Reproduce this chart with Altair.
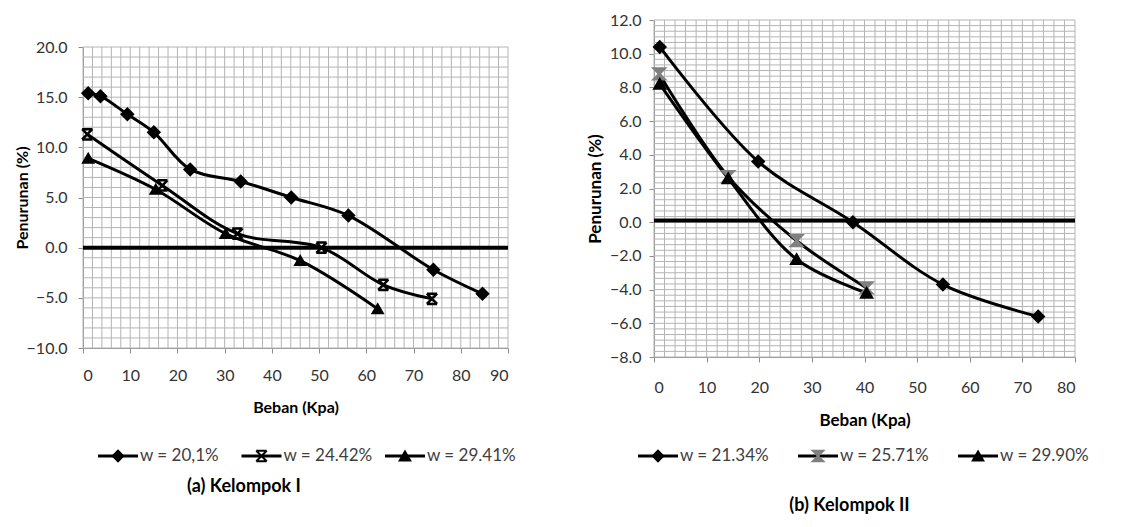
import altair as alt
import pandas as pd

FONT = "Lato"
GRID = "#b4b4b4"
AXC = "#8c8c8c"

# ---------------- Panel (a) Kelompok I ----------------
a_labels = ["w = 20,1%", "w = 24.42%", "w = 29.41%"]
a_x = [
    [1.1, 3.7, 9.4, 15.0, 22.7, 33.4, 44.1, 56.2, 74.2, 84.6],
    [0.9, 16.8, 32.7, 50.5, 63.6, 73.9],
    [1.1, 15.4, 30.2, 46.0, 62.4],
]
a_y = [
    [15.4, 15.1, 13.3, 11.5, 7.8, 6.6, 5.0, 3.2, -2.2, -4.6],
    [11.3, 6.2, 1.4, 0.0, -3.7, -5.1],
    [8.9, 5.8, 1.4, -1.3, -6.1],
]
a_xticks = [0, 10, 20, 30, 40, 50, 60, 70, 80, 90]
a_yticks = [-10, -5, 0, 5, 10, 15, 20]
a_zero = [0.0]

# ---------------- Panel (b) Kelompok II ----------------
b_labels = ["w = 21.34%", "w = 25.71%", "w = 29.90%"]
b_x = [
    [1.1, 19.8, 37.8, 54.9, 73.0],
    [1.0, 14.1, 27.1, 40.4],
    [1.1, 14.1, 27.1, 40.4],
]
b_y = [
    [10.4, 3.6, 0.0, -3.7, -5.6],
    [8.8, 2.7, -1.1, -3.9],
    [8.2, 2.6, -2.2, -4.2],
]
b_xticks = [0, 10, 20, 30, 40, 50, 60, 70, 80]
b_yticks = [-8, -6, -4, -2, 0, 2, 4, 6, 8, 10, 12]
b_zero = [0.1]


def series_df(labels, xs, ys):
    rows = []
    for lab, xv, yv in zip(labels, xs, ys):
        for a, b in zip(xv, yv):
            rows.append({"series": lab, "x": a, "y": b})
    return pd.DataFrame(rows)


def panel(df, labels, xdom, ydom, xticks, yticks, xgrid, ygrid, zero,
          width, height, shapes, sizes, fills, lpx, lpy, xtitle_y, ytitle_x,
          tsize, interp):
    xs = alt.Scale(domain=xdom, nice=False, zero=False)
    ys = alt.Scale(domain=ydom, nice=False, zero=False)
    common = dict(grid=False, labelFont=FONT, labelFontSize=16, labelColor="#333333",
                  titleFont=FONT, titleFontSize=tsize, titleFontWeight="bold",
                  titleColor="#000000", domainColor=AXC, tickColor=AXC, tickSize=5,
                  titleBaseline="middle")
    xaxis = alt.Axis(values=xticks, format="d", title="Beban (Kpa)",
                     labelPadding=lpx, titleY=xtitle_y, titleX=width / 2, **common)
    yaxis = alt.Axis(values=yticks, format=".1f", title="Penurunan (%)",
                     labelPadding=lpy, titleX=ytitle_x, titleY=height / 2, **common)

    def X(f):
        return alt.X(f, type="quantitative", scale=xs, axis=xaxis)

    def Y(f):
        return alt.Y(f, type="quantitative", scale=ys, axis=yaxis)

    vgrid = alt.Chart(pd.DataFrame({"gx": xgrid})).mark_rule(
        color=GRID, strokeWidth=1).encode(x=X("gx"))
    hgrid = alt.Chart(pd.DataFrame({"gy": ygrid})).mark_rule(
        color=GRID, strokeWidth=1).encode(y=Y("gy"))
    zline = alt.Chart(pd.DataFrame({"z": zero})).mark_rule(
        color="black", strokeWidth=4).encode(y=Y("z"))
    lines = alt.Chart(df).mark_line(
        color="black", strokeWidth=3, interpolate=interp).encode(
        x=X("x"), y=Y("y"), detail="series:N")
    pts = alt.Chart(df).mark_point(filled=True, opacity=1, strokeWidth=2.5).encode(
        x=X("x"), y=Y("y"),
        shape=alt.Shape("series:N", scale=alt.Scale(domain=labels, range=shapes), legend=None),
        fill=alt.Fill("series:N", scale=alt.Scale(domain=labels, range=fills), legend=None),
        stroke=alt.Stroke("series:N", scale=alt.Scale(domain=labels, range=fills), legend=None),
        size=alt.Size("series:O", scale=alt.Scale(domain=labels, range=sizes), legend=None),
    )
    return alt.layer(vgrid, hgrid, zline, lines, pts).properties(
        width=width, height=height)


def legend_view(labels, shapes, fills, width, dom):
    ldf = pd.DataFrame({"series": labels, "i": list(range(len(labels)))})
    lx = alt.X("i:Q", scale=alt.Scale(domain=dom, nice=False, zero=False), axis=None)
    base = alt.Chart(ldf)
    seg = base.mark_tick(orient="horizontal", size=40, thickness=3,
                         color="black", opacity=1).encode(x=lx)
    sym = base.mark_point(filled=True, opacity=1, size=110, strokeWidth=2).encode(
        x=lx,
        shape=alt.Shape("series:N", scale=alt.Scale(domain=labels, range=shapes), legend=None),
        fill=alt.Fill("series:N", scale=alt.Scale(domain=labels, range=fills), legend=None),
        stroke=alt.Stroke("series:N", scale=alt.Scale(domain=labels, range=fills), legend=None),
    )
    txt = base.mark_text(align="left", baseline="middle", dx=22, font=FONT,
                         fontSize=17, color="#404040").encode(x=lx, text="series:N")
    return alt.layer(seg, sym, txt).properties(width=width, height=16)


X_MARK = "M-1,-1L1,1M1,-1L-1,1M-1,-1L1,-1M-1,1L1,1"
HOURGLASS = "M-1,-1L1,-1L-1,1L1,1Z"

a_shapes = ["diamond", X_MARK, "triangle-up"]
b_shapes = ["diamond", HOURGLASS, "triangle-up"]
a_fills = ["black", "black", "black"]
b_fills = ["black", "#808080", "black"]

left = panel(series_df(a_labels, a_x, a_y), a_labels, [0, 90], [-10, 20],
             a_xticks, a_yticks, list(range(0, 91, 2)), list(range(-10, 21, 1)),
             a_zero, 425, 301, a_shapes, [120, 90, 120], a_fills,
             14, 11, 59, -61, 16, "catmull-rom")
right = panel(series_df(b_labels, b_x, b_y), b_labels, [0, 80], [-8, 12],
              b_xticks, b_yticks, list(range(0, 81, 2)), [-8 + i / 3 for i in range(61)],
              b_zero, 421, 337, b_shapes, [120, 110, 120], b_fills,
              17, 8, 63, -59, 17, "catmull-rom")

left_leg = legend_view(a_labels, a_shapes, a_fills, 425, [-0.244, 2.718])
right_leg = legend_view(b_labels, b_shapes, b_fills, 421, [-0.025, 2.606])

spacer = alt.Chart(pd.DataFrame({"s": [""]})).mark_text().encode(
    text="s:N").properties(width=20, height=19)

left_col = alt.vconcat(
    spacer, alt.vconcat(left, left_leg, spacing=31), spacing=0,
    title=alt.TitleParams("(a) Kelompok I", orient="bottom", anchor="middle",
                          font=FONT, fontSize=18, fontWeight="bold",
                          color="#000000", offset=13, dx=-21))
right_col = alt.vconcat(
    right, right_leg, spacing=18,
    title=alt.TitleParams("(b) Kelompok  II", orient="bottom", anchor="middle",
                          font=FONT, fontSize=18, fontWeight="bold",
                          color="#000000", offset=32, dx=12))

chart = alt.hconcat(left_col, right_col, spacing=70).resolve_scale(
    shape="independent", fill="independent", stroke="independent",
    size="independent"
).properties(
    padding={"left": 14, "top": 12, "right": 5, "bottom": 5}
).configure(background="white").configure_view(stroke=None)

chart.save("out.html", embed_options={"renderer": "svg", "actions": False})
